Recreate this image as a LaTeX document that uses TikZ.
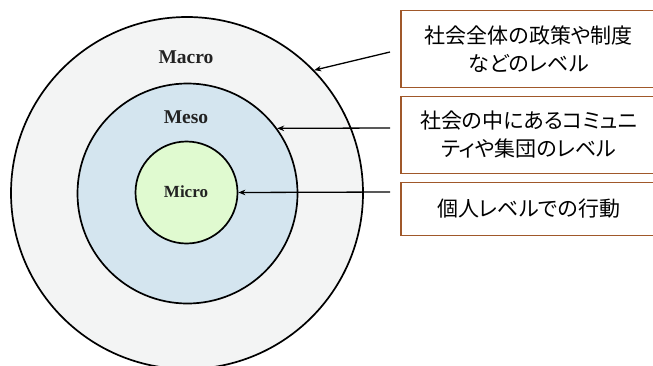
\documentclass[tikz,border=0pt]{standalone}
\usepackage{fontspec}
\newfontfamily\jpfont[RawFeature=+palt]{Noto Sans CJK JP}
\newfontfamily\labfont{Liberation Serif}
\usetikzlibrary{arrows.meta}
\definecolor{macrofill}{HTML}{F3F4F4}
\definecolor{mesofill}{HTML}{D4E5EF}
\definecolor{microfill}{HTML}{E0FAD0}
\definecolor{boxline}{HTML}{A0582A}
\definecolor{labtxt}{HTML}{222222}
\tikzset{
  ring/.style={circle, draw=black, line width=1.7pt, inner sep=0pt},
  ringlabel/.style={text=labtxt, font=\labfont\bfseries\fontsize{19.5}{21}\selectfont},
  jpbox/.style={draw=boxline, line width=1.5pt, fill=white, minimum width=256pt, anchor=north west, align=center, inner sep=0pt,
     font=\jpfont\fontsize{21}{28}\selectfont},
  conn/.style={line width=1.3pt, -{Stealth[length=7pt,width=5.5pt]}}
}
\begin{document}
\begin{tikzpicture}[x=1pt,y=-1pt]
\useasboundingbox (0,0) rectangle (653,365);
\clip (0,0) rectangle (653,365);
\fill[white] (0,0) rectangle (653,365);
\node[ring, fill=macrofill, minimum size=352pt] (outer) at (187,193) {};
\node[ring, fill=mesofill, minimum size=220pt] (meso) at (187.5,193.5) {};
\node[ring, fill=microfill, minimum size=102pt] (micro) at (186.5,192.5) {};
\node[ringlabel] (lmacro) at (186,57) {Macro};
\node[ringlabel] (lmeso) at (186,117) {Meso};
\node[ringlabel, font=\labfont\bfseries\fontsize{17}{19}\selectfont] (lmicro) at (186,192) {Micro};
\node[jpbox, minimum height=77pt] (b1) at (400,9.5) {社会全体の政策や制度\\などのレベル};
\node[jpbox, minimum height=77pt] (b2) at (400,95.5) {社会の中にあるコミュニ\\ティや集団のレベル};
\node[jpbox, minimum height=53pt] (b3) at (400,181.5) {個人レベルでの行動};
\coordinate (s1) at (390,52);
\coordinate (s2) at (390,128);
\coordinate (s3) at (390,192);
\draw[conn] (s1) -- (outer.44.8);
\draw[conn] (s2) -- (meso.36.2);
\draw[conn] (s3) -- (micro.east);
\end{tikzpicture}
\end{document}
